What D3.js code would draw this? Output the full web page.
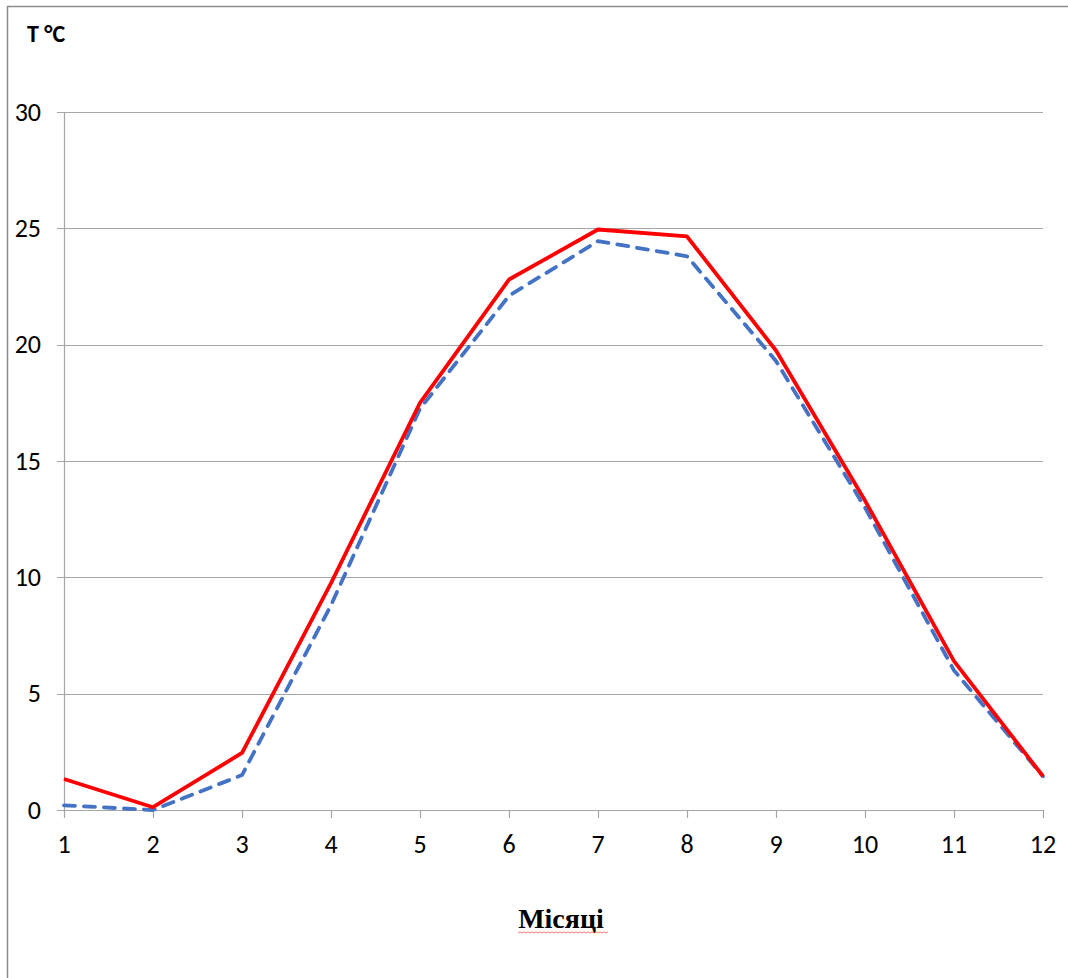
<!DOCTYPE html>
<html><head><meta charset="utf-8">
<script src="https://cdn.jsdelivr.net/npm/d3@7"></script>
<style>body{margin:0;background:#fff}svg{display:block}</style>
</head><body>
<script>
const months = [1,2,3,4,5,6,7,8,9,10,11,12];
const seriesRed = [1.33,0.12,2.45,9.75,17.5,22.8,24.95,24.65,19.75,13.3,6.4,1.45];
const seriesBlue = [0.2,0.0,1.5,8.8,17.25,22.1,24.45,23.8,19.3,13.0,6.0,1.45];
const yTicks = [0,5,10,15,20,25,30];
const yTitle = "T °C";
const xTitle = "Місяці";

const W = 1068, H = 978;
const svg = d3.select("body").append("svg").attr("width", W).attr("height", H);

// frame
svg.append("path").attr("d", `M7.5,${H} V6.5 H${W}`).attr("fill","none").attr("stroke","#8c8c8c").attr("stroke-width",1.5);

const x = d3.scaleLinear().domain([1,12]).range([64,1043]);
const y = d3.scaleLinear().domain([0,30]).range([810,112]);

// gridlines
svg.append("g").selectAll("line").data(yTicks).join("line")
  .attr("x1",57).attr("x2",1043)
  .attr("y1",d=>Math.round(y(d))+0.5).attr("y2",d=>Math.round(y(d))+0.5)
  .attr("stroke","#a6a6a6").attr("stroke-width",1.2);

// y axis line
svg.append("line").attr("x1",64.5).attr("x2",64.5).attr("y1",y(30)).attr("y2",y(0))
  .attr("stroke","#a6a6a6").attr("stroke-width",1.2);

// x axis ticks
svg.append("g").selectAll("line").data(months).join("line")
  .attr("x1",d=>Math.round(x(d))+0.5).attr("x2",d=>Math.round(x(d))+0.5)
  .attr("y1",y(0)).attr("y2",y(0)+8)
  .attr("stroke","#a6a6a6").attr("stroke-width",1.2);

const tickFont = "Carlito, Lato, 'Liberation Sans', Arial, sans-serif";
// y tick labels
svg.append("g").selectAll("text").data(yTicks).join("text")
  .attr("x",41).attr("y",d=>y(d)+8.5)
  .attr("text-anchor","end").attr("font-family",tickFont)
  .attr("font-size",26).attr("fill","#000").text(d=>d);

// x tick labels
svg.append("g").selectAll("text").data(months).join("text")
  .attr("x",d=>x(d)).attr("y",853)
  .attr("text-anchor","middle").attr("font-family",tickFont)
  .attr("font-size",26).attr("fill","#000").text(d=>d);

const line = d3.line().x((d,i)=>x(months[i])).y(d=>y(d));

svg.append("path").datum(seriesBlue).attr("d",line)
  .attr("fill","none").attr("stroke","#4472c4").attr("stroke-width",3.8)
  .attr("stroke-dasharray","11,9").attr("stroke-linecap","round").attr("stroke-linejoin","round");

svg.append("path").datum(seriesRed).attr("d",line)
  .attr("fill","none").attr("stroke","#ff0000").attr("stroke-width",3.8)
  .attr("stroke-linejoin","round");

// titles
svg.append("text").attr("x",27).attr("y",42)
  .attr("font-family",tickFont).attr("font-weight","bold")
  .attr("font-size",24).attr("fill","#000").text(yTitle);

const xt = svg.append("text").attr("x",561).attr("y",928).attr("text-anchor","middle")
  .attr("font-family","'Liberation Serif', 'Times New Roman', serif").attr("font-weight","bold")
  .attr("font-size",28).attr("fill","#000").text(xTitle);

// spell-check wavy underline
const bb = xt.node().getBBox();
let d = `M${bb.x},${933}`;
for (let px = bb.x, k = 0; px < bb.x + bb.width + 4; px += 2, k++) {
  d += ` L${px+2},${933 + (k%2===0 ? -1.2 : 0)}`;
}
svg.append("path").attr("d",d).attr("fill","none").attr("stroke","#ff4d4d").attr("stroke-width",0.8);
</script>
</body></html>
